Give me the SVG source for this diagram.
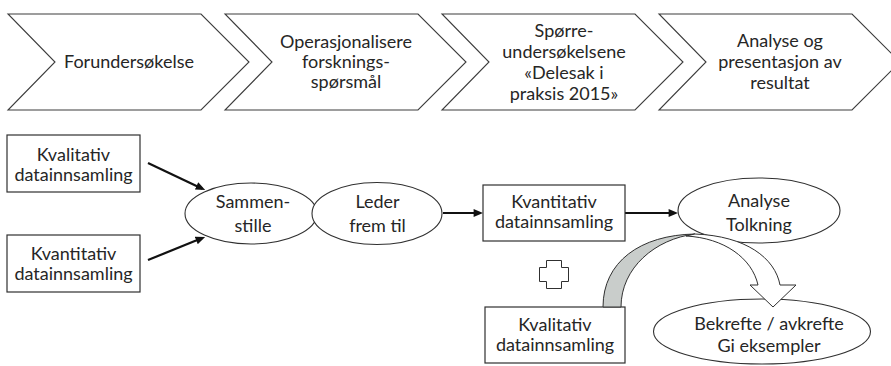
<svg xmlns="http://www.w3.org/2000/svg" width="891" height="366" viewBox="0 0 891 366">
  <style>
    .chev { fill: #ffffff; stroke: #3c3c3c; stroke-width: 1.1; stroke-linejoin: miter; }
    .box { fill: #ffffff; stroke: #303030; stroke-width: 1.2; }
    .oval { fill: #ffffff; stroke: #303030; stroke-width: 1.1; }
    .lbl { font-family: Lato, "Open Sans", "Liberation Sans", sans-serif; font-size: 18px; fill: #262626; text-anchor: middle; }
    .link { fill: none; stroke: #111111; stroke-width: 2.2; }
    .back { fill: #c9cdcb; stroke: #303030; stroke-width: 1; }
    .front { fill: #ffffff; stroke: #303030; stroke-width: 1; stroke-linejoin: miter; }
  </style>
  <defs>
    <marker id="head" markerUnits="userSpaceOnUse" markerWidth="10" markerHeight="8" refX="6" refY="3.75" orient="auto" viewBox="0 0 9 7.5">
      <path d="M0,0 L9,3.75 L0,7.5 z" fill="#111111"/>
    </marker>
  </defs>
  <rect width="891" height="366" fill="#ffffff"/>

  <!-- process chevrons -->
  <g id="step-forundersokelse">
    <polygon class="chev" points="8,14 201,14 249,62 201,110 8,110 55,62"/>
    <text class="lbl" x="129" y="68">Forundersøkelse</text>
  </g>
  <g id="step-operasjonalisere">
    <polygon class="chev" points="225,14 418,14 466,62 418,110 225,110 272,62"/>
    <text class="lbl" x="346" y="48">Operasjonalisere</text>
    <text class="lbl" x="346" y="68">forsknings-</text>
    <text class="lbl" x="346" y="88">spørsmål</text>
  </g>
  <g id="step-sporreundersokelsene">
    <polygon class="chev" points="442,14 635,14 683,62 635,110 442,110 489,62"/>
    <text class="lbl" x="564" y="37">Spørre-</text>
    <text class="lbl" x="564" y="58">undersøkelsene</text>
    <text class="lbl" x="564" y="79">«Delesak i</text>
    <text class="lbl" x="564" y="100">praksis 2015»</text>
  </g>
  <g id="step-analyse">
    <polygon class="chev" points="659,14 852,14 900,62 852,110 659,110 706,62"/>
    <text class="lbl" x="780" y="47">Analyse og</text>
    <text class="lbl" x="780" y="68">presentasjon av</text>
    <text class="lbl" x="780" y="89">resultat</text>
  </g>

  <!-- connectors -->
  <g id="connectors">
    <line class="link" x1="148" y1="163" x2="202.3" y2="188.7" marker-end="url(#head)"/>
    <line class="link" x1="148" y1="260" x2="202.2" y2="238.1" marker-end="url(#head)"/>
    <line class="link" x1="443" y1="213" x2="480" y2="213" marker-end="url(#head)"/>
    <line class="link" x1="625" y1="213" x2="675" y2="213" marker-end="url(#head)"/>
  </g>

  <!-- lower flow -->
  <g id="kvalitativ-1">
    <rect class="box" x="7" y="135" width="133" height="57"/>
    <text class="lbl" x="73.5" y="161">Kvalitativ</text>
    <text class="lbl" x="73.5" y="181">datainnsamling</text>
  </g>
  <g id="kvantitativ-1">
    <rect class="box" x="7" y="235" width="133" height="57"/>
    <text class="lbl" x="73.5" y="260">Kvantitativ</text>
    <text class="lbl" x="73.5" y="280">datainnsamling</text>
  </g>
  <g id="sammenstille">
    <ellipse class="oval" cx="251" cy="213.5" rx="66" ry="30.5"/>
    <text class="lbl" x="253" y="208">Sammen-</text>
    <text class="lbl" x="253" y="232">stille</text>
  </g>
  <g id="leder">
    <ellipse class="oval" cx="377" cy="213.5" rx="65" ry="31"/>
    <text class="lbl" x="377.5" y="208">Leder</text>
    <text class="lbl" x="377.5" y="232">frem til</text>
  </g>
  <g id="kvantitativ-2">
    <rect class="box" x="483" y="185" width="142" height="56"/>
    <text class="lbl" x="554" y="208">Kvantitativ</text>
    <text class="lbl" x="554" y="228">datainnsamling</text>
  </g>
  <g id="analyse-tolkning">
    <ellipse class="oval" cx="759" cy="210.5" rx="81" ry="32.5"/>
    <text class="lbl" x="759" y="207">Analyse</text>
    <text class="lbl" x="759" y="231">Tolkning</text>
  </g>
  <g id="pluss">
    <path class="front" d="M546.5,260.5 H561.5 V267.5 H568.5 V281.5 H561.5 V288.5 H546.5 V281.5 H539.5 V267.5 H546.5 Z"/>
  </g>
  <g id="kvalitativ-2">
    <rect class="box" x="485" y="307" width="140" height="56"/>
    <text class="lbl" x="555" y="331">Kvalitativ</text>
    <text class="lbl" x="555" y="351">datainnsamling</text>
  </g>
  <g id="bekrefte">
    <ellipse class="oval" cx="762" cy="331.5" rx="108.5" ry="32.5"/>
    <text class="lbl" x="769" y="330">Bekrefte / avkrefte</text>
    <text class="lbl" x="769" y="352">Gi eksempler</text>
  </g>

  <!-- curved block arrow from the qualitative box over to the confirmation oval -->
  <g id="buet-pil">
    <path class="back" d="M603,307 C603,262 640,235 695,234 C655,239 621,268 621,307 Z"/>
    <path class="front" d="M686,236 C724,238 752,258 758,285 L750,285 L773,307 L796,285 L780,285 C775,258 746,236 695,234 Z"/>
  </g>
</svg>
